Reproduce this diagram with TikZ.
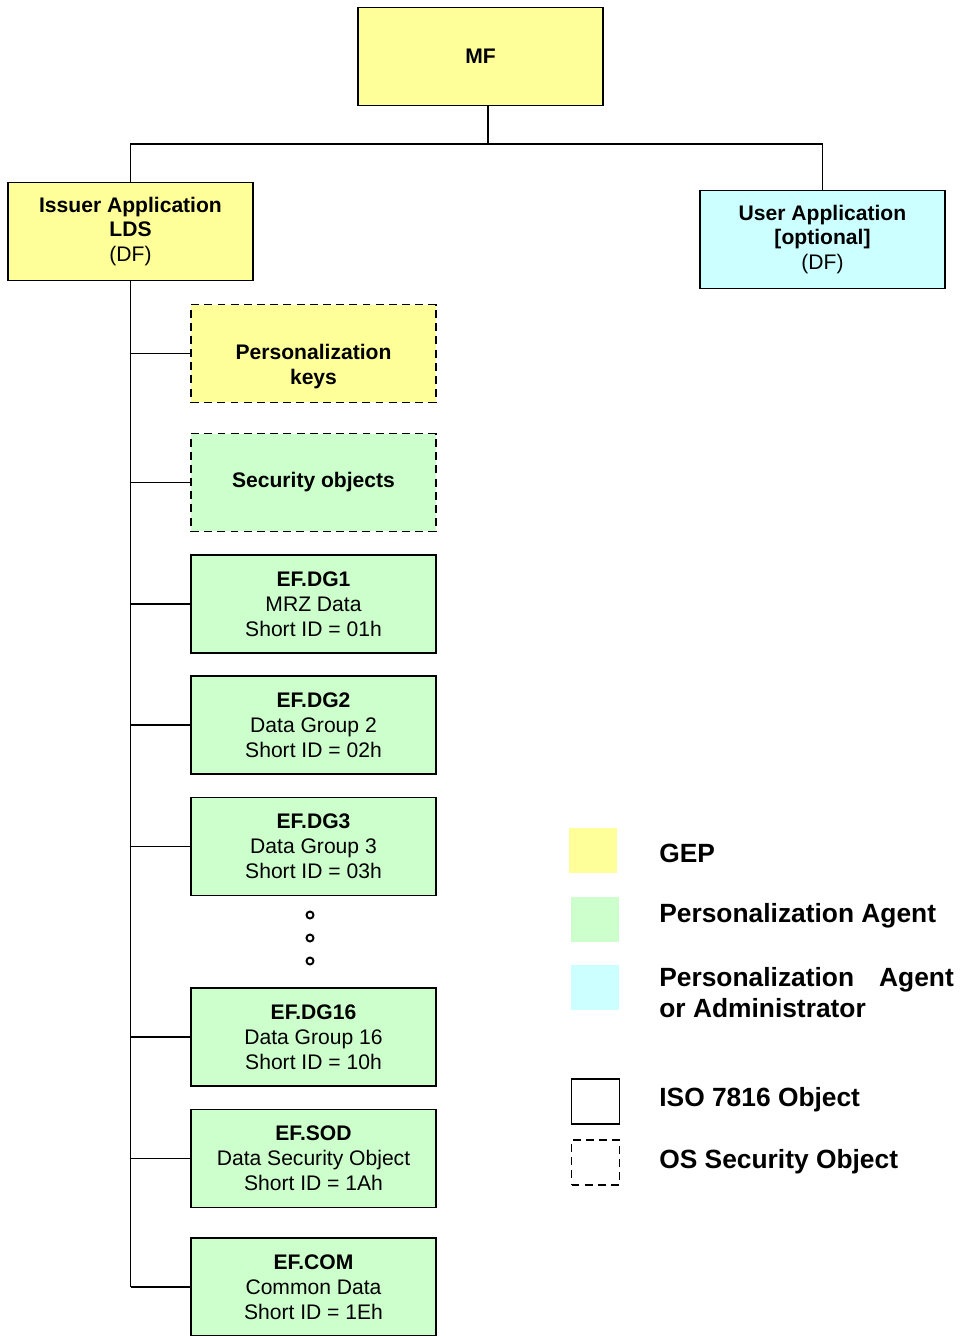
\documentclass[tikz,border=0pt]{standalone}
\usepackage{fontspec}
\setmainfont{Liberation Sans}
\usetikzlibrary{positioning}

\definecolor{gepyellow}{HTML}{FFFF99}
\definecolor{agentgreen}{HTML}{CCFFCC}
\definecolor{admincyan}{HTML}{CCFFFF}

\newcommand{\boxfont}{\fontsize{12}{14.2}\selectfont}
\newcommand{\keyfont}{\fontsize{15}{17.6}\selectfont\bfseries}

\begin{document}
\begin{tikzpicture}[
    x=0.02cm,
    y=-0.02cm,
    filebox/.style={
        draw,
        line width=1.1pt,
        minimum width=4.9cm,
        minimum height=1.96cm,
        inner sep=0pt,
        outer sep=0pt,
        align=center,
        font=\boxfont
    },
    secbox/.style={filebox, dash pattern=on 4.5pt off 3pt},
    conn/.style={line width=0.85pt},
    swatch/.style={
        minimum width=0.96cm,
        minimum height=0.9cm,
        inner sep=0pt
    },
    keytext/.style={anchor=west, align=left, font=\keyfont, inner sep=0pt}
]

\useasboundingbox (0,0) rectangle (962,1336);

% MF and applications
\node[filebox, fill=gepyellow] (mf) at (480.5,56.5)
    {\bfseries MF};

\node[filebox, fill=gepyellow] (iss) at (130.5,231.5)
    {\bfseries Issuer Application\\\bfseries LDS\\(DF)};

\node[filebox, fill=admincyan] (usr) at (822.5,239.5)
    {\bfseries User Application\\\bfseries [optional]\\(DF)};

\coordinate (split) at (488,144);
\draw[conn] (split |- mf.south) -- (split);
\draw[conn] (iss.north) |- (split) -| (usr.north);

% Objects under the LDS
\node[secbox, fill=gepyellow] (perso) at (313.5,353.5)
    {\mbox{}\\[9pt]\bfseries Personalization\\\bfseries keys};

\node[secbox, fill=agentgreen] (secobj) at (313.5,482.5)
    {\bfseries Security objects};

\node[filebox, fill=agentgreen] (dg1) at (313.5,604)
    {\bfseries EF.DG1\\MRZ Data\\Short ID = 01h};

\node[filebox, fill=agentgreen] (dg2) at (313.5,725)
    {\bfseries EF.DG2\\Data Group 2\\Short ID = 02h};

\node[filebox, fill=agentgreen] (dg3) at (313.5,846.5)
    {\bfseries EF.DG3\\Data Group 3\\Short ID = 03h};

\node[filebox, fill=agentgreen] (dg16) at (313.5,1037)
    {\bfseries EF.DG16\\Data Group 16\\Short ID = 10h};

\node[filebox, fill=agentgreen] (sod) at (313.5,1158.5)
    {\bfseries EF.SOD\\Data Security Object\\Short ID = 1Ah};

\node[filebox, fill=agentgreen] (com) at (313.5,1287)
    {\bfseries EF.COM\\Common Data\\Short ID = 1Eh};

% dots
\foreach \y in {915,938,961}
    \draw[line width=1.1pt, fill=white] (310,\y) circle (3.5);

% trunk and branches
\draw[conn] (iss.south) -- (iss.south |- com.west);
\foreach \obj in {perso,secobj,dg1,dg2,dg3,dg16,sod,com}
    \draw[conn] (iss.south |- \obj.west) -- (\obj.west);

% Legend
\node[swatch, fill=gepyellow] (keygep) at (593,850.5) {};
\node[keytext] (txtgep) at (659,853) {GEP};

\node[swatch, fill=agentgreen] (keyagent) at (595,919) {};
\node[keytext] (txtagent) at (659,916) {Personalization Agent};

\node[swatch, fill=admincyan] (keyadmin) at (595,987) {};
\node[keytext] (txtadmin) at (659,992.5)
    {Personalization\hspace{0.95em}Agent\\or Administrator};

\node[swatch, draw, line width=1.1pt] (keyiso) at (595.5,1101.5) {};
\node[keytext] (txtiso) at (659,1100) {ISO 7816 Object};

\node[swatch, draw, dash pattern=on 4.5pt off 3pt, line width=1.1pt] (keyos) at (595.5,1162.5) {};
\node[keytext] (txtos) at (659,1162) {OS Security Object};

\end{tikzpicture}
\end{document}
